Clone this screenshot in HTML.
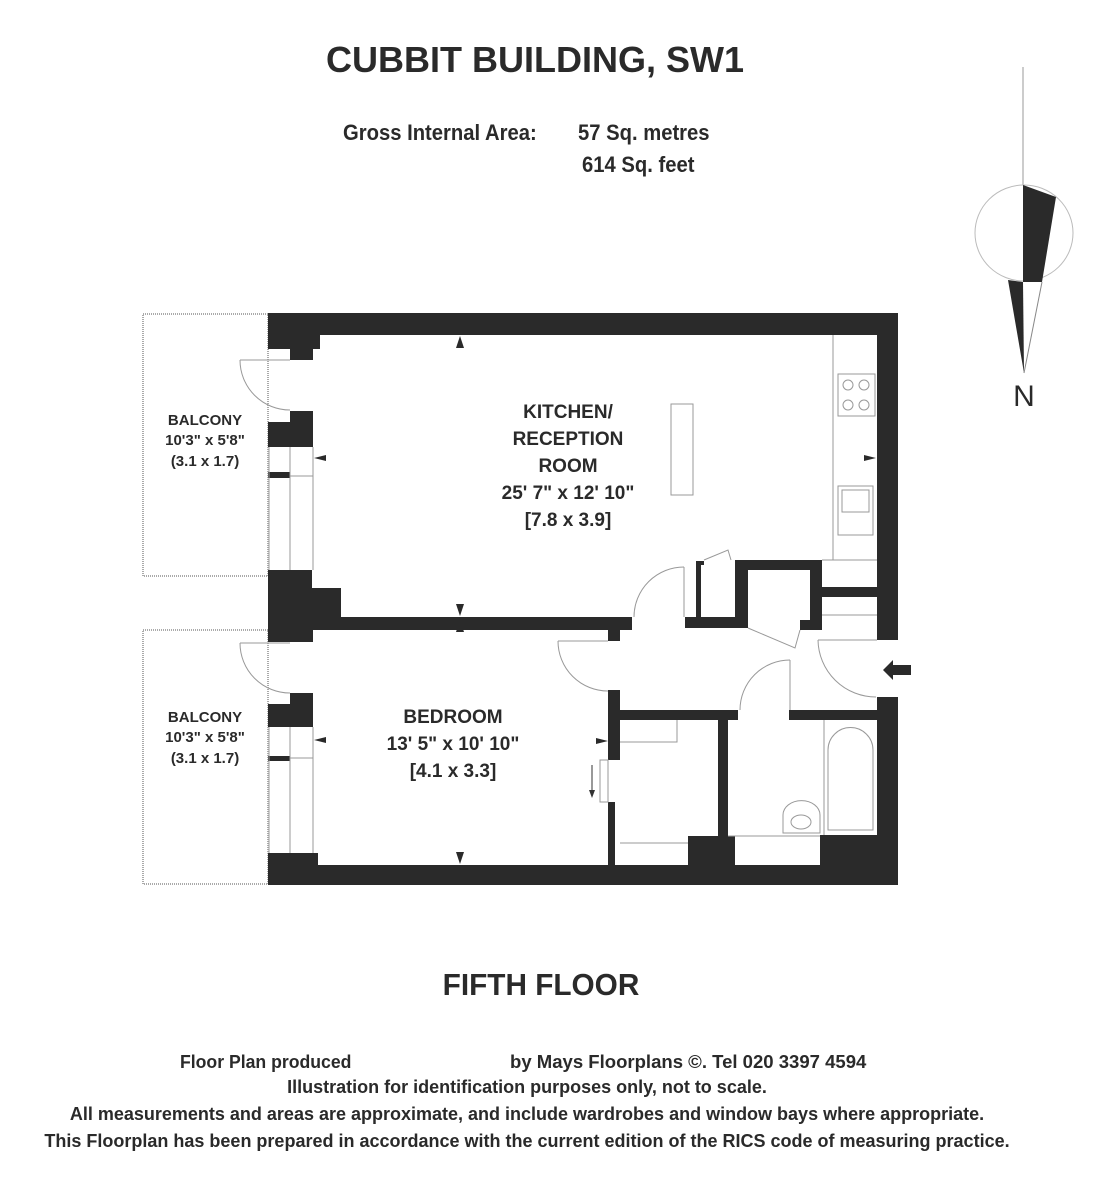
<!DOCTYPE html>
<html><head><meta charset="utf-8"><style>
body{margin:0;background:#fff;}
svg{display:block}
text{font-family:"Liberation Sans",sans-serif;font-weight:bold;fill:#2a2a2a}
</style></head><body>
<svg width="1100" height="1200" viewBox="0 0 1100 1200" xmlns="http://www.w3.org/2000/svg">
<text x="535" y="72" font-size="36" text-anchor="middle" transform="translate(535 0) scale(1.0 1) translate(-535 0)">CUBBIT BUILDING, SW1</text>
<g font-size="22">
<text x="343" y="140" transform="translate(343 0) scale(0.92 1) translate(-343 0)">Gross Internal Area:</text>
<text x="578" y="140" transform="translate(578 0) scale(0.92 1) translate(-578 0)">57 Sq. metres</text>
<text x="582" y="172" transform="translate(582 0) scale(0.92 1) translate(-582 0)">614 Sq. feet</text>
</g>
<line x1="1023" y1="67" x2="1023" y2="185" stroke="#999" stroke-width="1"/>
<ellipse cx="1024" cy="233" rx="49" ry="48" fill="none" stroke="#bbb" stroke-width="1"/>
<polygon points="1023,185 1056,197 1042,282 1023,282" fill="#2a2a2a"/>
<polygon points="1008,280 1023,282 1024,373" fill="#2a2a2a"/>
<line x1="1042" y1="282" x2="1024" y2="373" stroke="#888" stroke-width="1"/>
<text x="1024" y="406" font-size="30" text-anchor="middle" style="font-weight:normal">N</text>
<rect x="143" y="314" width="125" height="262" fill="none" stroke="#aaa" stroke-width="2" stroke-dasharray="1 1"/>
<rect x="143" y="630" width="125" height="254" fill="none" stroke="#aaa" stroke-width="2" stroke-dasharray="1 1"/>
<g fill="#2a2a2a">
<rect x="268" y="313" width="630" height="22"/>
<rect x="268" y="313" width="52" height="36"/>
<rect x="290" y="349" width="23" height="11"/>
<rect x="290" y="411" width="23" height="36"/>
<rect x="268" y="422" width="22" height="25"/>
<rect x="268" y="472" width="22" height="6"/>
<rect x="268" y="570" width="44" height="72"/>
<rect x="290" y="630" width="23" height="12"/>
<rect x="312" y="588" width="29" height="30"/>
<rect x="312" y="617" width="320" height="13"/>
<rect x="608" y="617" width="12" height="24"/>
<rect x="290" y="693" width="23" height="34"/>
<rect x="268" y="704" width="22" height="23"/>
<rect x="268" y="756" width="22" height="5"/>
<rect x="268" y="853" width="50" height="32"/>
<rect x="268" y="865" width="630" height="20"/>
<rect x="877" y="313" width="21" height="327"/>
<rect x="877" y="697" width="21" height="188"/>
<rect x="685" y="617" width="63" height="11"/>
<rect x="696" y="561" width="5" height="56"/>
<rect x="696" y="561" width="8" height="4"/>
<rect x="735" y="560" width="13" height="68"/>
<rect x="735" y="560" width="87" height="10"/>
<rect x="810" y="560" width="12" height="70"/>
<rect x="822" y="587" width="55" height="10"/>
<rect x="800" y="620" width="22" height="10"/>
<rect x="608" y="690" width="12" height="70"/>
<rect x="608" y="802" width="7" height="63"/>
<rect x="608" y="710" width="130" height="10"/>
<rect x="718" y="710" width="10" height="126"/>
<rect x="688" y="836" width="47" height="30"/>
<rect x="789" y="710" width="88" height="10"/>
<rect x="820" y="835" width="57" height="30"/>
</g>
<g fill="none" stroke="#999" stroke-width="1">
<line x1="269" y1="447" x2="269" y2="570"/><line x1="290" y1="447" x2="290" y2="570"/><line x1="313" y1="447" x2="313" y2="570"/>
<line x1="290" y1="476" x2="313" y2="476"/>
<line x1="269" y1="727" x2="269" y2="853"/><line x1="290" y1="727" x2="290" y2="853"/><line x1="313" y1="727" x2="313" y2="853"/>
<line x1="290" y1="758" x2="313" y2="758"/>
<line x1="240" y1="360" x2="290" y2="360"/><path d="M240 360 A50 50 0 0 0 290 410"/>
<line x1="240" y1="643" x2="290" y2="643"/><path d="M240 643 A50 50 0 0 0 290 693"/>
<line x1="684" y1="567" x2="684" y2="617"/><path d="M684 567 A50 50 0 0 0 634 617"/>
<line x1="558" y1="641" x2="608" y2="641"/><path d="M558 641 A50 50 0 0 0 608 691"/>
<line x1="790" y1="660" x2="790" y2="710"/><path d="M790 660 A50 50 0 0 0 740 710"/>
<line x1="818" y1="640" x2="877" y2="640"/><path d="M818 640 A58 58 0 0 0 876 697"/>
<path d="M704 560 L728 550 L731 560"/>
<path d="M748 628 L795 648 L800 630"/>
<line x1="833" y1="335" x2="833" y2="560"/>
<line x1="822" y1="560" x2="877" y2="560"/>
<line x1="822" y1="615" x2="877" y2="615"/>
<rect x="838" y="374" width="37" height="42"/>
<circle cx="848" cy="385" r="5"/><circle cx="864" cy="385" r="5"/><circle cx="848" cy="405" r="5"/><circle cx="864" cy="405" r="5"/>
<rect x="838" y="486" width="35" height="49"/>
<rect x="842" y="490" width="27" height="22"/>
<rect x="671" y="404" width="22" height="91"/>
<polyline points="620,742 677,742 677,720"/>
<line x1="620" y1="843" x2="688" y2="843"/>
<rect x="600" y="760" width="8" height="42"/>
<line x1="592" y1="765" x2="592" y2="795" stroke="#333"/>
<line x1="824" y1="720" x2="824" y2="835"/>
<path d="M828 830 L828 750 A22 22 0 0 1 873 750 L873 830 Z"/>
<path d="M783 833 L783 815 A18 14 0 0 1 820 815 L820 833 Z"/>
<ellipse cx="801" cy="822" rx="10" ry="7"/>
<line x1="728" y1="836" x2="820" y2="836"/>
</g>
<polygon points="589,790 595,790 592,798" fill="#333"/>
<g fill="#2a2a2a">
<polygon points="460,336 456,348 464,348"/>
<polygon points="460,616 456,604 464,604"/>
<polygon points="460,620 456,632 464,632"/>
<polygon points="460,864 456,852 464,852"/>
<polygon points="314,458 326,455 326,461"/>
<polygon points="314,740 326,737 326,743"/>
<polygon points="876,458 864,455 864,461"/>
<polygon points="608,741 596,738 596,744"/>
<polygon points="883,670 893,660 893,665 911,665 911,675 893,675 893,680"/>
</g>
<g text-anchor="middle">
<g font-size="15"><text x="205" y="425">BALCONY</text><text x="205" y="445">10'3"  x  5'8"</text><text x="205" y="466">(3.1 x 1.7)</text>
<text x="205" y="722">BALCONY</text><text x="205" y="742">10'3"  x  5'8"</text><text x="205" y="763">(3.1 x 1.7)</text></g>
<g font-size="19"><text x="568" y="418">KITCHEN/</text><text x="568" y="445">RECEPTION</text><text x="568" y="472">ROOM</text><text x="568" y="499">25' 7" x 12' 10"</text><text x="568" y="526">[7.8 x 3.9]</text>
<text x="453" y="723">BEDROOM</text><text x="453" y="750">13' 5" x 10' 10"</text><text x="453" y="777">[4.1 x 3.3]</text></g>
<text x="541" y="995" font-size="31" transform="translate(541 0) scale(0.96 1) translate(-541 0)">FIFTH FLOOR</text>
</g>
<g font-size="18">
<text x="180" y="1068" transform="translate(180 0) scale(0.98 1) translate(-180 0)">Floor Plan produced</text>
<text x="510" y="1068" transform="translate(510 0) scale(1.03 1) translate(-510 0)">by Mays Floorplans  ©. Tel 020 3397 4594</text>
<g text-anchor="middle">
<text x="527" y="1093">Illustration for identification purposes only, not to scale.</text>
<text x="527" y="1120">All measurements and areas are approximate, and include wardrobes and window bays where appropriate.</text>
<text x="527" y="1147">This Floorplan has been prepared in accordance with the current edition of the RICS code of measuring practice.</text>
</g>
</g>
</svg>
</body></html>
